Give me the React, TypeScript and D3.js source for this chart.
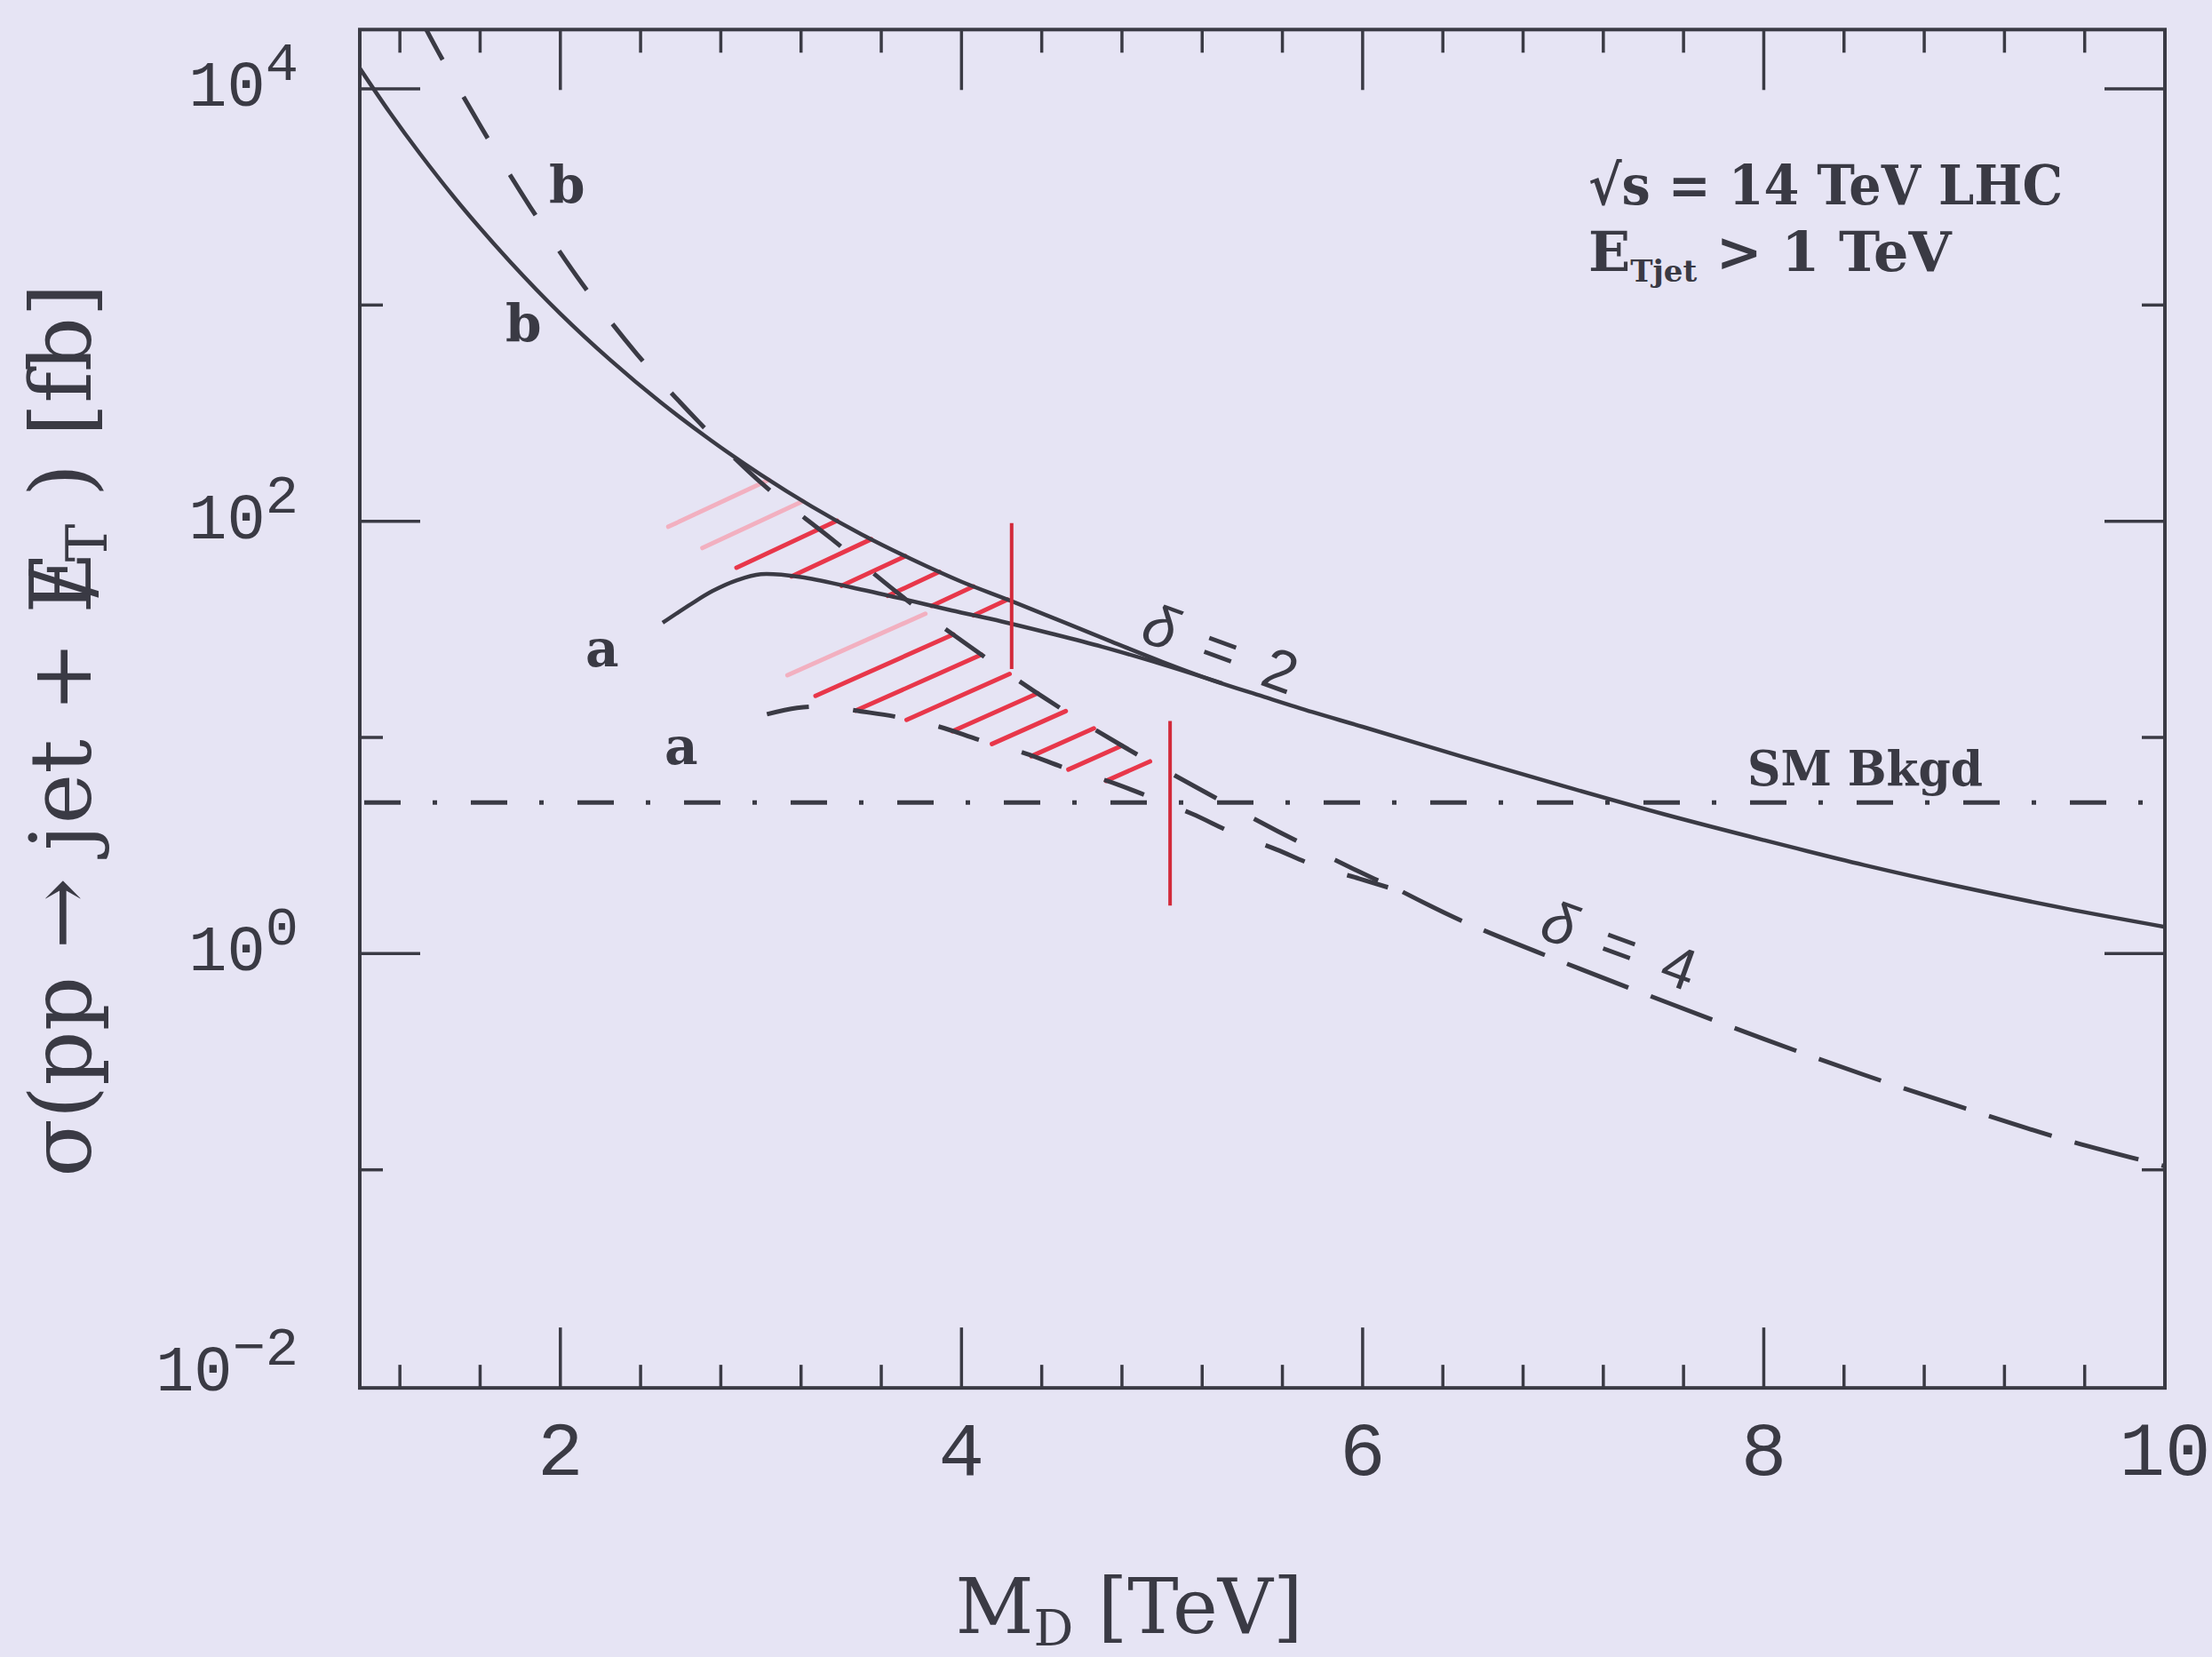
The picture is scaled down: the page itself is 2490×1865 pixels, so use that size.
import React from 'react';
import * as d3 from 'd3';

// delta = 2, curve "b" (solid)
const MD_D2_B = [1.0, 1.15, 1.3, 1.5, 1.75, 2.0, 2.25, 2.5, 2.75, 3.0, 3.25, 3.5, 3.75, 4.0, 4.25, 4.5, 4.75, 5.0, 5.25, 5.5, 5.75, 6.0, 6.5, 7.0, 7.5, 8.0, 8.5, 9.0, 9.5, 10.0];
const SIGMA_D2_B = [12450, 7762, 5012, 2917, 1585, 912, 556, 355, 237, 164, 117.5, 87.1, 66.8, 52.5, 42.7, 34.4, 27.7, 22.4, 18.4, 15.5, 13.1, 11.2, 8.13, 5.96, 4.42, 3.35, 2.57, 2.02, 1.62, 1.33];

// delta = 2, curve "a" (solid)
const MD_D2_A = [2.51, 2.65, 2.76, 2.88, 3.0, 3.2, 3.45, 3.7, 3.95, 4.2, 4.45, 4.7, 5.0, 5.3];
const SIGMA_D2_A = [33.9, 41.3, 47.6, 53.3, 56.9, 55.2, 49.5, 43.9, 38.7, 34.4, 30.2, 26.3, 21.8, 17.8];

// delta = 4, curve "b" (dashed)
const MD_D4_B = [1.3, 1.39, 1.61, 1.85, 2.11, 2.38, 2.69, 3.01, 3.35, 3.72, 4.05, 4.42, 4.8, 5.18, 5.58, 5.98, 6.2];
const SIGMA_D4_B = [21400, 14900, 6530, 2840, 1250, 596, 288, 148, 83.2, 43.7, 26.0, 15.1, 9.16, 5.82, 3.67, 2.40, 1.93];

// delta = 4, curve "a" (dashed)
const MD_D4_A = [3.03, 3.18, 3.33, 3.5, 3.665, 3.89, 4.095, 4.32, 4.525, 4.73, 4.93, 5.15, 5.35, 5.57, 5.76, 5.985, 6.2];
const SIGMA_D4_A = [12.8, 13.7, 13.9, 13.2, 12.5, 11.2, 9.70, 8.43, 7.18, 6.28, 5.35, 4.43, 3.63, 3.03, 2.56, 2.22, 1.93];

// delta = 4, a and b lying on top of each other
const MD_D4_TAIL = [6.2, 6.5, 7.0, 7.5, 8.0, 8.5, 9.0, 9.5, 10.0];
const SIGMA_D4_TAIL = [1.93, 1.41, 0.912, 0.603, 0.403, 0.275, 0.193, 0.138, 0.104];

// SM background
const MD_BKGD = [1.0, 10.0];
const SIGMA_BKGD = [5.0, 5.0];

// red marker cuts: M_D, top and bottom of each bar
const CUT_MD = [4.25, 5.04];
const CUT_TOP = [98, 11.9];
const CUT_BOTTOM = [20.7, 1.67];

const X_MAJOR = [2, 4, 6, 8, 10];
const X_LABELS = ['2', '4', '6', '8', '10'];
const Y_MAJOR = [1e4, 1e2, 1e0];
const Y_MINOR = [1e3, 1e1, 1e-1];
const Y_LABEL_VALUES = [1e4, 1e2, 1e0, 1e-2];
const Y_LABEL_EXP = ['4', '2', '0', '\u22122'];

const INK = '#3a3a44';
const RED = '#e8374a';
const PINK = '#f2b0c0';

function logAt(mds: number[], sig: number[], md: number) {
  if (md <= mds[0]) return Math.log10(sig[0]);
  for (let i = 1; i < mds.length; i++) {
    if (md <= mds[i]) {
      const t = (md - mds[i - 1]) / (mds[i] - mds[i - 1]);
      return (1 - t) * Math.log10(sig[i - 1]) + t * Math.log10(sig[i]);
    }
  }
  return Math.log10(sig[sig.length - 1]);
}

export default function App() {
  const W = 2490, H = 1865;
  const x = d3.scaleLinear().domain([1, 10]).range([405, 2437]);
  const y = d3.scaleLog().domain([1e-2, 1e4]).range([1560, 100]);
  const left = x(1), right = x(10);
  const top = y(18800), bottom = y(0.0098);

  const line = (mds: number[], sig: number[]) =>
    d3.line<number>()
      .x((_, i) => x(mds[i]))
      .y((_, i) => y(sig[i]))
      .curve(d3.curveCatmullRom.alpha(0.5))(mds) || '';

  // hatch strokes: start on the upper curve, run down-left until the lower curve (or maxLen)
  function hatch(um: number[], us: number[], lm: number[], ls: number[], starts: number[], angle: number, maxLen: number) {
    const a = (angle * Math.PI) / 180;
    const dx = -Math.cos(a), dy = Math.sin(a);
    return starts.map(md0 => {
      const x0 = x(md0), y0 = y(Math.pow(10, logAt(um, us, md0)));
      let t = 0;
      for (; t < maxLen; t += 1) {
        const px = x0 + dx * t, py = y0 + dy * t;
        const ly = y(Math.pow(10, logAt(lm, ls, x.invert(px))));
        if (py >= ly) break;
      }
      return { md0, x1: x0, y1: y0, x2: x0 + dx * t, y2: y0 + dy * t };
    });
  }

  const hatchD2 = hatch(MD_D2_B, SIGMA_D2_B, MD_D2_A, SIGMA_D2_A, d3.range(3.04, 4.26, 0.17), 25, 125);
  const hatchD4 = hatch(MD_D4_B, SIGMA_D4_B, MD_D4_A, SIGMA_D4_A, d3.range(3.82, 5.04, 0.14), 24, 170);

  const xMinor = d3.range(1.2, 10, 0.4).filter(v => Math.abs(v / 2 - Math.round(v / 2)) > 0.01);

  const tickW = 3.5, major = 68, minor = 26;

  return (
    <svg width={W} height={H} style={{ position: 'absolute', left: 0, top: 0 }}>
      <defs>
        <clipPath id="plot">
          <rect x={left} y={top} width={right - left} height={bottom - top} />
        </clipPath>
        <clipPath id="cut2">
          <rect x={left} y={top} width={x(CUT_MD[0]) - left} height={bottom - top} />
        </clipPath>
        <clipPath id="cut4">
          <rect x={left} y={top} width={x(CUT_MD[1]) - left} height={bottom - top} />
        </clipPath>
      </defs>
      <rect x={0} y={0} width={W} height={H} fill="#e6e4f4" />

      {/* hatching */}
      <g clipPath="url(#cut2)" strokeWidth={5} strokeLinecap="round">
        {hatchD2.map((h, i) => (
          <line key={i} x1={h.x1} y1={h.y1} x2={h.x2} y2={h.y2} stroke={h.md0 < 3.3 ? PINK : RED} />
        ))}
      </g>
      <g clipPath="url(#cut4)" strokeWidth={5} strokeLinecap="round">
        {hatchD4.map((h, i) => (
          <line key={i} x1={h.x1} y1={h.y1} x2={h.x2} y2={h.y2} stroke={h.md0 < 3.9 ? PINK : RED} />
        ))}
      </g>

      {/* curves */}
      <g clipPath="url(#plot)" fill="none" stroke={INK}>
        <path d={line(MD_D2_B, SIGMA_D2_B)} strokeWidth={4.5} />
        <path d={line(MD_D2_A, SIGMA_D2_A)} strokeWidth={4.5} />
        <path d={line(MD_D4_B, SIGMA_D4_B)} strokeWidth={5} strokeDasharray="54 48" />
        <path d={line(MD_D4_A, SIGMA_D4_A)} strokeWidth={5} strokeDasharray="48 50" />
        <path d={line(MD_D4_TAIL, SIGMA_D4_TAIL)} strokeWidth={5} strokeDasharray="74 27" />
        <path d={line(MD_BKGD, SIGMA_BKGD)} strokeWidth={5} strokeDasharray="41 36 5 38" strokeDashoffset={-5} />
      </g>

      {/* red cut markers */}
      {CUT_MD.map((m, i) => (
        <line key={i} x1={x(m)} x2={x(m)} y1={y(CUT_TOP[i])} y2={y(CUT_BOTTOM[i])} stroke="#d22a3a" strokeWidth={4} />
      ))}

      {/* frame */}
      <rect x={left} y={top} width={right - left} height={bottom - top} fill="none" stroke={INK} strokeWidth={4} />

      {/* ticks */}
      <g stroke={INK} strokeWidth={tickW}>
        {X_MAJOR.map(v => (
          <g key={'xm' + v}>
            <line x1={x(v)} x2={x(v)} y1={bottom} y2={bottom - major} />
            <line x1={x(v)} x2={x(v)} y1={top} y2={top + major} />
          </g>
        ))}
        {xMinor.map(v => (
          <g key={'xn' + v}>
            <line x1={x(v)} x2={x(v)} y1={bottom} y2={bottom - minor} />
            <line x1={x(v)} x2={x(v)} y1={top} y2={top + minor} />
          </g>
        ))}
        {Y_MAJOR.map(v => (
          <g key={'ym' + v}>
            <line x1={left} x2={left + major} y1={y(v)} y2={y(v)} />
            <line x1={right} x2={right - major} y1={y(v)} y2={y(v)} />
          </g>
        ))}
        {Y_MINOR.map(v => (
          <g key={'yn' + v}>
            <line x1={left} x2={left + minor} y1={y(v)} y2={y(v)} />
            <line x1={right} x2={right - minor} y1={y(v)} y2={y(v)} />
          </g>
        ))}
      </g>

      {/* tick labels */}
      <g fill={INK} fontFamily="Liberation Mono, Courier New, monospace">
        {X_MAJOR.map((v, i) => (
          <text key={v} x={x(v)} y={1660} textAnchor="middle" fontSize={86}>{X_LABELS[i]}</text>
        ))}
        {Y_LABEL_VALUES.map((v, i) => (
          <text key={v} x={336} y={y(v) - (v < 0.1 ? 14 : 0)} textAnchor="end" dominantBaseline="middle" fontSize={72}>
            10<tspan dy={-26} fontSize={62}>{Y_LABEL_EXP[i]}</tspan>
          </text>
        ))}
      </g>

      {/* axis titles */}
      <text x={1271} y={1838} textAnchor="middle" fontFamily="DejaVu Serif" fontSize={86} fill={INK}>
        M<tspan dy={14} fontSize={56}>D</tspan><tspan dy={-14}> [TeV]</tspan>
      </text>
      <text transform="translate(102,822) rotate(-90)" textAnchor="middle" fontFamily="DejaVu Serif" fontSize={96} fill={INK}>
        σ(pp → jet + E<tspan dx={-52}>/</tspan><tspan dx={8} dy={18} fontSize={64}>T</tspan><tspan dy={-18}> ) [fb]</tspan>
      </text>

      {/* annotations */}
      <g fill={INK} fontFamily="DejaVu Serif" fontWeight="bold">
        <text x={1788} y={230} fontSize={62} textLength={534} lengthAdjust="spacingAndGlyphs">√s = 14 TeV LHC</text>
        <text x={1788} y={305} fontSize={62}>
          E<tspan dy={12} fontSize={34}>Tjet</tspan><tspan dy={-12}> &gt; 1 TeV</tspan>
        </text>
        <text x={1967} y={884} fontSize={54} textLength={265} lengthAdjust="spacingAndGlyphs">SM Bkgd</text>
        <text x={618} y={228} fontSize={58}>b</text>
        <text x={569} y={384} fontSize={58}>b</text>
        <text x={659} y={750} fontSize={58}>a</text>
        <text x={748} y={860} fontSize={58}>a</text>
      </g>
      <g fill={INK} fontFamily="Liberation Sans, Arial, sans-serif">
        <text transform="translate(1374,730) rotate(20)" textAnchor="middle" dominantBaseline="central" fontSize={66}
          textLength={180} lengthAdjust="spacing">
          <tspan fontStyle="italic">δ</tspan> = 2
        </text>
        <text transform="translate(1823,1064) rotate(20)" textAnchor="middle" dominantBaseline="central" fontSize={66}
          textLength={180} lengthAdjust="spacing">
          <tspan fontStyle="italic">δ</tspan> = 4
        </text>
      </g>
    </svg>
  );
}
